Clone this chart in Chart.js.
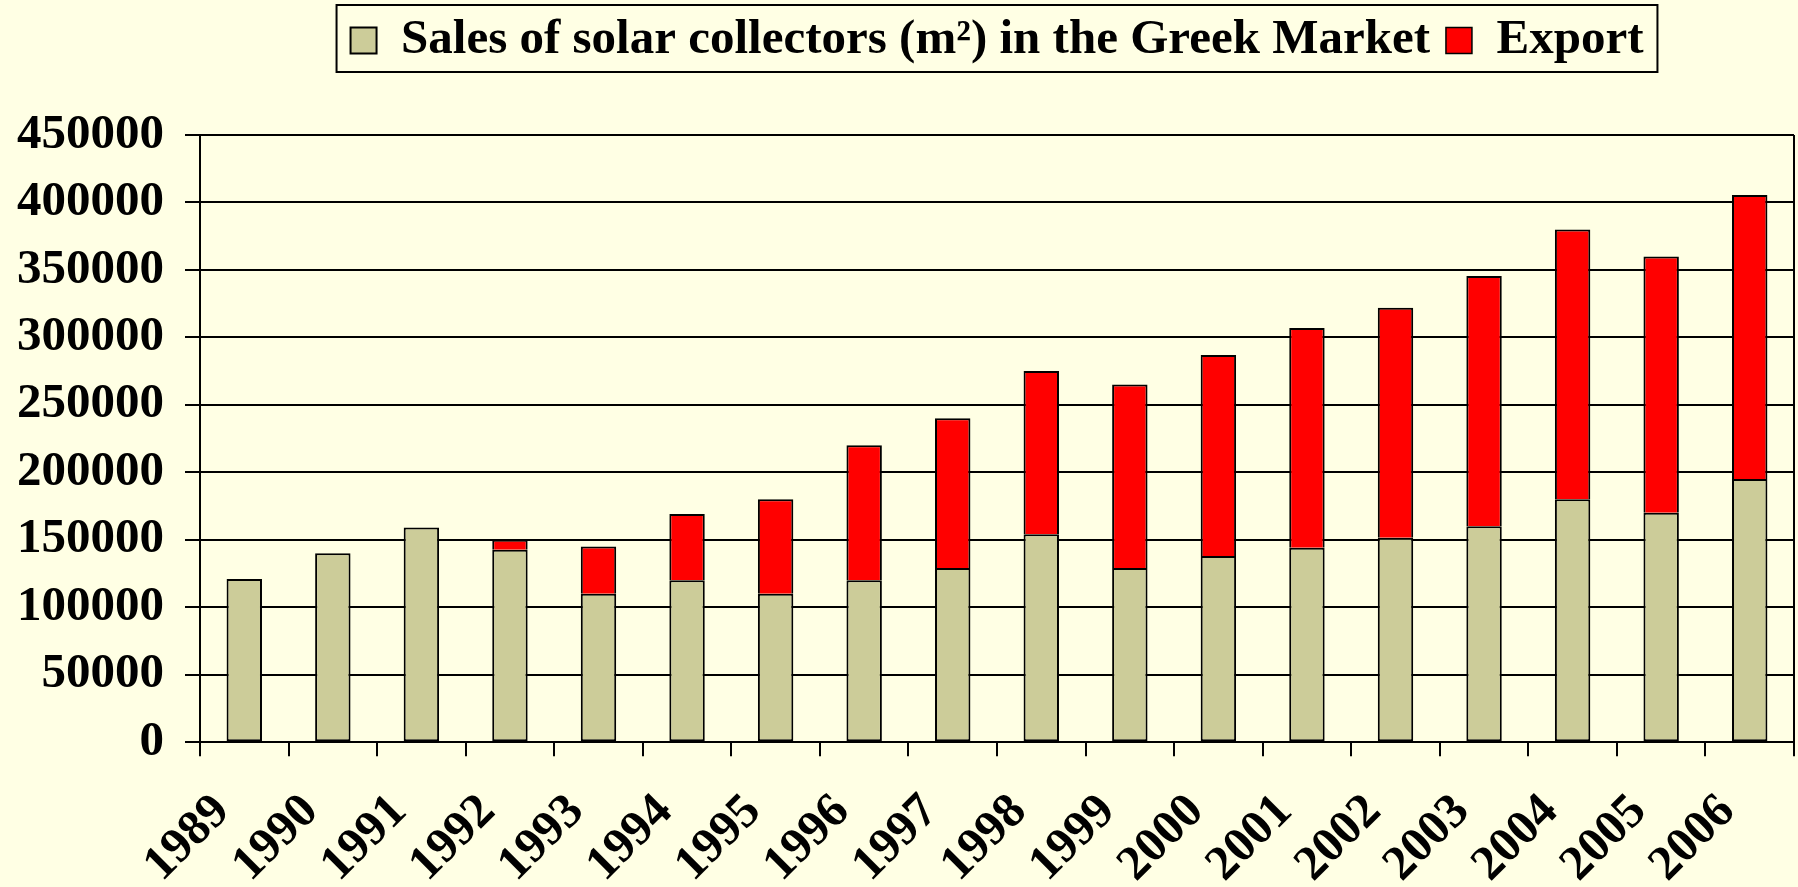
<!DOCTYPE html>
<html>
<head>
<meta charset="utf-8">
<script src="https://cdn.jsdelivr.net/npm/chart.js@4/dist/chart.umd.min.js"></script>
<style>
  html, body { margin: 0; padding: 0; background: #FFFFE4; }
  #wrap { width: 1798px; height: 887px; position: relative; }
</style>
</head>
<body>
<div id="wrap"><canvas id="chartSolar"></canvas></div>
<script>
// years on the x axis
const years = ['1989', '1990', '1991', '1992', '1993', '1994', '1995', '1996', '1997',
               '1998', '1999', '2000', '2001', '2002', '2003', '2004', '2005', '2006'];

// m² sold in Greece
const greekMarket = [121000, 140000, 159000, 142500, 110000, 120000, 110000, 120000, 129000,
                     154000, 129000, 138000, 144000, 151500, 160000, 180000, 170000, 195000];

// m² exported (stacked on top)
const exportSales = [0, 0, 0, 7500, 35000, 49000, 70000, 100000, 111000,
                     121000, 136000, 149000, 163000, 170500, 185500, 200000, 190000, 210500];

const yMax = 450000;
const yStep = 50000;

const serif = "'Liberation Serif', 'Times New Roman', serif";

// box around the legend, like the excel one
const legendFrame = {
    id: 'legendFrame',
    beforeLayout(chart) {
        const legend = chart.legend;
        if (legend && !legend._patched) {
            const fit = legend.fit;
            legend.fit = function() {
                fit.call(this);
                this.height += 60;
            };
            legend._patched = true;
        }
    },
    afterDraw(chart) {
        const boxes = chart.legend.legendHitBoxes;
        if (!boxes || !boxes.length) return;
        const left = Math.min(...boxes.map(b => b.left)) - 14;
        const right = Math.max(...boxes.map(b => b.left + b.width)) + 14;
        const top = boxes[0].top - 11;
        const bottom = boxes[0].top + boxes[0].height + 7;
        const ctx = chart.ctx;
        ctx.save();
        ctx.strokeStyle = '#000';
        ctx.lineWidth = 2;
        ctx.strokeRect(left, top, right - left, bottom - top);
        ctx.restore();
    }
};

const ctx = document.getElementById('chartSolar').getContext('2d');
new Chart(ctx, {
    type: 'bar',
    data: {
        labels: years,
        datasets: [{
            label: 'Sales of solar collectors (m²) in the Greek Market',
            data: greekMarket,
            backgroundColor: '#CCCC99',
            borderColor: '#000',
            borderWidth: 2,
            borderSkipped: false
        }, {
            label: 'Export',
            data: exportSales,
            backgroundColor: '#FF0000',
            borderColor: '#000',
            borderWidth: { top: 2, left: 2, right: 2, bottom: 0 },
            borderSkipped: false
        }]
    },
    options: {
        responsive: true,
        maintainAspectRatio: false,
        animation: false,
        datasets: {
            bar: { categoryPercentage: 1, barPercentage: 0.4 }
        },
        layout: {
            padding: { left: -4, right: 4, top: 0, bottom: -34 }
        },
        scales: {
            x: {
                stacked: true,
                afterFit: scale => {
                    // rotated labels hang to the left, don't let them push the plot
                    scale.paddingLeft = 0;
                    scale.paddingRight = 0;
                },
                grid: {
                    offset: true,
                    drawOnChartArea: true,
                    color: c => c.type === 'scale' ? '#000' : 'rgba(0,0,0,0)',
                    tickColor: '#000',
                    lineWidth: 2,
                    tickLength: 14
                },
                border: { color: '#000', width: 2 },
                ticks: {
                    autoSkip: false,
                    maxRotation: 45,
                    minRotation: 45,
                    padding: 27,
                    labelOffset: -22,
                    color: '#000',
                    font: { family: serif, size: 49, weight: 'bold' }
                }
            },
            y: {
                stacked: true,
                min: 0,
                max: yMax,
                grid: {
                    color: '#000',
                    lineWidth: 2,
                    tickLength: 15
                },
                border: { color: '#000', width: 2 },
                ticks: {
                    stepSize: yStep,
                    padding: 21,
                    color: '#000',
                    callback: v => String(v),
                    font: { family: serif, size: 49, weight: 'bold' }
                }
            }
        },
        plugins: {
            legend: {
                position: 'top',
                fullSize: false,
                labels: {
                    boxWidth: 26,
                    boxHeight: 26,
                    padding: 16,
                    color: '#000',
                    font: { family: serif, size: 49, weight: 'bold' }
                }
            },
            tooltip: { enabled: false }
        }
    },
    plugins: [legendFrame]
});
</script>
</body>
</html>
